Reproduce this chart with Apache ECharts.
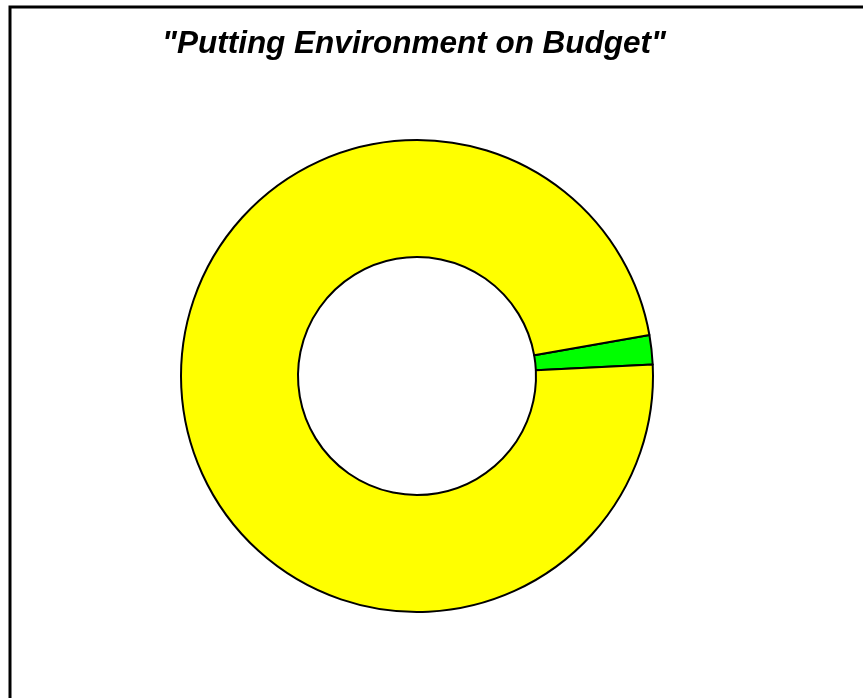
<!DOCTYPE html>
<html><head><meta charset="utf-8">
<script src="https://cdn.jsdelivr.net/npm/echarts@6/dist/echarts.min.js"></script>
<style>html,body{margin:0;padding:0;background:#fff}#c{width:863px;height:698px}</style>
</head><body><div id="c"></div>
<script>
const titleText = '"Putting Environment on Budget"';
const categories = ['Environment', 'Rest of Budget'];
const values = [2, 98];
const colors = ['#00ff00', '#ffff00'];

const chart = echarts.init(document.getElementById('c'), null, {renderer: 'canvas'});
chart.setOption({
  animation: false,
  backgroundColor: '#ffffff',
  title: {
    text: titleText, left: 409, top: 23, textAlign: 'center',
    textStyle: {fontFamily: 'Liberation Sans, Arial, sans-serif', fontSize: 31.5, fontWeight: 'bold', fontStyle: 'italic', color: '#000'}
  },
  graphic: [{
    type: 'rect', shape: {x: 10, y: 7, width: 900, height: 750},
    style: {fill: 'none', stroke: '#000', lineWidth: 3}, silent: true
  }],
  series: [{
    type: 'pie',
    center: [417, 376],
    radius: [119, 236],
    startAngle: 10,
    clockwise: true,
    label: {show: false}, labelLine: {show: false},
    itemStyle: {borderColor: '#000', borderWidth: 2},
    emphasis: {disabled: true},
    data: categories.map((n, i) => ({name: n, value: values[i], itemStyle: {color: colors[i]}}))
  }]
});
</script></body></html>
